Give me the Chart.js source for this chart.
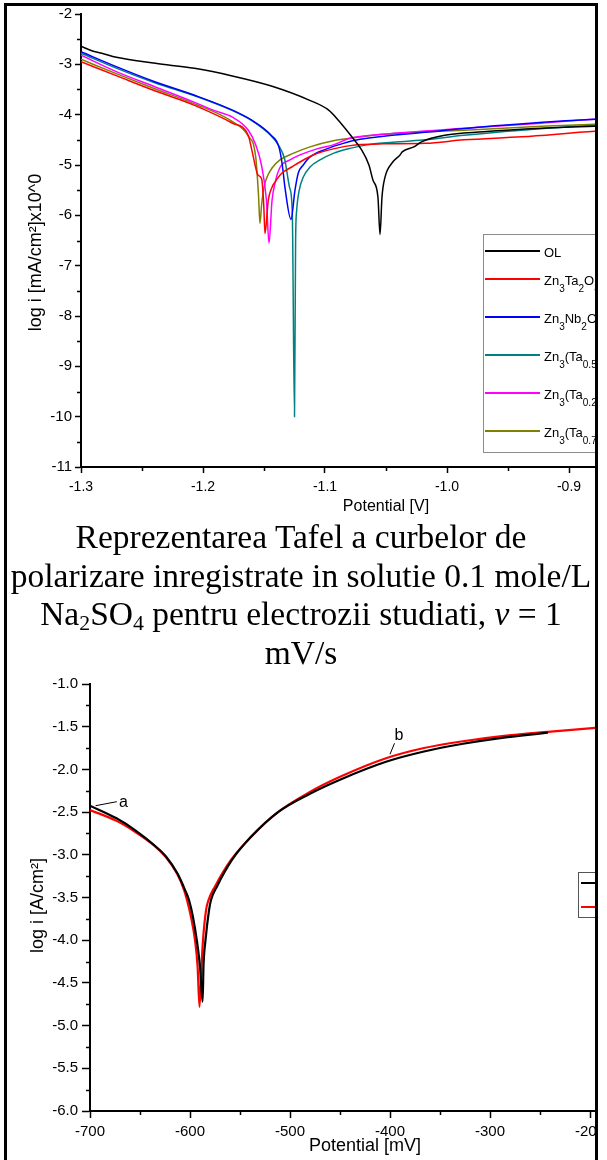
<!DOCTYPE html>
<html>
<head>
<meta charset="utf-8">
<script src="https://cdn.jsdelivr.net/npm/chart.js@4.4.1/dist/chart.umd.min.js"></script>
<style>
    html, body { margin: 0; padding: 0; background: #fff; width: 607px; height: 1160px; overflow: hidden; }
    #clip { position: absolute; left: 7px; top: 6px; width: 588px; height: 1154px; overflow: hidden; }
    #frame { position: absolute; left: 4px; top: 3px; width: 588px; height: 1300px; border: 3px solid #000; pointer-events: none; }
    .plot { position: absolute; left: -7px; }
    #tafelWrap { top: -6px; width: 720px; height: 520px; }
    #polWrap { top: 634px; width: 660px; height: 520px; }
    #caption {
        position: absolute; left: 0; top: 512px; width: 588px; white-space: nowrap;
        font-family: "Liberation Serif", "Times New Roman", serif;
        font-size: 33.5px; line-height: 38.7px; text-align: center; color: #000;
    }
    #caption sub { font-size: 0.65em; vertical-align: -0.25em; line-height: 0; }
</style>
</head>
<body>
<div id="clip">
    <div id="tafelWrap" class="plot"><canvas id="tafelChart"></canvas></div>
    <div id="caption">Reprezentarea Tafel a curbelor de<br>polarizare inregistrate in solutie 0.1 mole/L<br>Na<sub>2</sub>SO<sub>4</sub> pentru electrozii studiati, <i>v</i> = 1<br>mV/s</div>
    <div id="polWrap" class="plot"><canvas id="polChart"></canvas></div>
</div>
<div id="frame"></div>

<script>
// ---- top chart: Tafel curves, potential [V] vs log i ----
const olV = [-1.300, -1.290, -1.283, -1.271, -1.239, -1.207, -1.176, -1.144, -1.113, -1.097, -1.087, -1.078, -1.070, -1.064, -1.0607, -1.0566, -1.0549, -1.0533, -1.0508, -1.0451, -1.0385, -1.0367, -1.0272, -1.0209, -1.0019, -0.9703, -0.9229, -0.8786, -0.86];
const olLog = [-2.64, -2.74, -2.78, -2.86, -2.98, -3.08, -3.23, -3.43, -3.71, -3.91, -4.17, -4.44, -4.70, -5.00, -5.30, -5.64, -6.38, -5.64, -5.24, -4.96, -4.80, -4.74, -4.64, -4.54, -4.41, -4.34, -4.27, -4.23, -4.22];

const taV = [-1.300, -1.2706, -1.2390, -1.2074, -1.1758, -1.1631, -1.1600, -1.1575, -1.1550, -1.1519, -1.1502, -1.1492, -1.1465, -1.1434, -1.1410, -1.1352, -1.1273, -1.1205, -1.1096, -1.0932, -1.0738, -1.0525, -1.0177, -0.9861, -0.9387, -0.8786, -0.86];
const taLog = [-2.95, -3.23, -3.53, -3.81, -4.17, -4.40, -4.70, -4.98, -5.20, -5.28, -5.80, -6.36, -5.70, -5.44, -5.34, -5.16, -5.04, -4.94, -4.80, -4.68, -4.60, -4.58, -4.57, -4.50, -4.44, -4.33, -4.31];

const nbV = [-1.300, -1.2706, -1.2390, -1.2074, -1.1758, -1.1600, -1.1442, -1.1378, -1.1350, -1.1328, -1.1279, -1.1246, -1.1219, -1.1178, -1.1123, -1.0986, -1.0850, -1.0713, -1.0177, -0.9545, -0.8786, -0.86];
const nbLog = [-2.75, -3.05, -3.35, -3.61, -3.91, -4.11, -4.41, -4.64, -5.00, -5.45, -6.08, -5.50, -5.16, -5.00, -4.84, -4.68, -4.57, -4.49, -4.35, -4.21, -4.09, -4.08];

const mix1V = [-1.300, -1.2706, -1.2390, -1.2074, -1.1758, -1.1600, -1.1442, -1.1378, -1.1331, -1.1290, -1.1268, -1.1250, -1.1241, -1.1232, -1.1211, -1.1178, -1.1123, -1.1041, -1.0932, -1.0795, -1.0658, -1.0385, -1.0177, -0.9861, -0.9387, -0.8786, -0.86];
const mix1Log = [-2.78, -3.08, -3.37, -3.62, -3.92, -4.12, -4.42, -4.62, -4.88, -5.45, -5.95, -10.0, -6.50, -5.90, -5.50, -5.24, -5.04, -4.90, -4.77, -4.67, -4.60, -4.54, -4.50, -4.41, -4.31, -4.21, -4.20];

const mix2V = [-1.300, -1.2706, -1.2390, -1.2074, -1.1916, -1.1758, -1.1631, -1.1568, -1.1521, -1.1480, -1.1459, -1.1434, -1.1410, -1.1369, -1.1287, -1.1205, -1.1066, -1.0932, -1.0795, -1.0525, -0.9861, -0.9229, -0.8786, -0.86];
const mix2Log = [-2.82, -3.15, -3.45, -3.75, -3.91, -4.05, -4.30, -4.60, -5.00, -5.70, -6.55, -5.70, -5.36, -5.05, -4.90, -4.80, -4.68, -4.60, -4.47, -4.39, -4.27, -4.17, -4.09, -4.08];

const mix3V = [-1.300, -1.2706, -1.2390, -1.2074, -1.1758, -1.1631, -1.1568, -1.1545, -1.1533, -1.1520, -1.1508, -1.1492, -1.1475, -1.1434, -1.1369, -1.1262, -1.1123, -1.0932, -1.0795, -1.0525, -0.9861, -0.9229, -0.8786, -0.86];
const mix3Log = [-2.90, -3.19, -3.49, -3.78, -4.14, -4.42, -4.84, -5.60, -6.16, -5.80, -5.56, -5.36, -5.24, -5.06, -4.90, -4.77, -4.64, -4.52, -4.47, -4.39, -4.31, -4.23, -4.19, -4.18];

const tafelLabels = ['OL', 'Zn_{3}Ta_{2}O_{8}', 'Zn_{3}Nb_{2}O_{8}', 'Zn_{3}(Ta_{0.5}Nb_{0.5})_{2}O_{8}', 'Zn_{3}(Ta_{0.25}Nb_{0.75})_{2}O_{8}', 'Zn_{3}(Ta_{0.75}Nb_{0.25})_{2}O_{8}'];
const tafelColors = ['#000000', '#ff0000', '#0000ff', '#008080', '#ff00ff', '#808000'];

// ---- bottom chart: polarization curves, potential [mV] vs log i ----
const curveAmV = [-700, -674, -655, -636, -624, -612.5, -605, -601, -597, -593.2, -590, -587.4, -586.5, -584.5, -581, -579, -573, -558, -539, -512, -481, -450, -404, -366, -327, -288, -242];
const curveALog = [-2.425, -2.57, -2.71, -2.885, -3.02, -3.22, -3.41, -3.53, -3.73, -4.0, -4.31, -4.72, -4.3, -4.0, -3.65, -3.53, -3.37, -3.06, -2.79, -2.50, -2.29, -2.12, -1.91, -1.79, -1.70, -1.63, -1.57];
const curveBmV = [-700, -674, -655, -636, -624, -613, -606, -603, -599, -595, -592.4, -590.5, -588.5, -587, -584, -581.5, -575, -559, -539, -512, -481, -450.5, -404, -366, -327, -288, -242, -180];
const curveBLog = [-2.475, -2.60, -2.73, -2.89, -3.03, -3.22, -3.41, -3.53, -3.73, -4.0, -4.31, -4.78, -4.3, -4.0, -3.65, -3.53, -3.37, -3.06, -2.79, -2.50, -2.27, -2.09, -1.87, -1.75, -1.67, -1.61, -1.56, -1.50];

const FONT = '"Liberation Sans", Arial, sans-serif';
Chart.defaults.font.family = FONT;
Chart.defaults.color = '#000';

function pts(xs, ys) {
    return xs.map((x, i) => ({ x: x, y: ys[i] }));
}

// text with _{...} subscripts
function drawRich(ctx, text, x, y, size) {
    const parts = text.split(/_\{([^}]*)\}/);
    parts.forEach((p, i) => {
        if (!p) return;
        const sub = i % 2 === 1;
        ctx.font = (sub ? Math.round(size * 0.8) : size) + 'px ' + FONT;
        ctx.fillText(p, x, sub ? y + size * 0.6 : y);
        x += ctx.measureText(p).width;
    });
}

const minorTicks = {
    id: 'minorTicks',
    afterDraw(chart, args, o) {
        const ctx = chart.ctx;
        ctx.save();
        ctx.strokeStyle = '#000';
        ctx.lineWidth = 1.5;
        ctx.beginPath();
        ['x', 'y'].forEach(id => {
            const scale = chart.scales[id];
            const step = o[id];
            const major = scale.options.ticks.stepSize;
            const start = Math.ceil(scale.min / step - 1e-9);
            for (let k = start; k * step <= scale.max + 1e-9; k++) {
                const v = k * step;
                if (Math.abs(v / major - Math.round(v / major)) < 1e-6) continue;
                const p = Math.round(scale.getPixelForValue(v)) + 0.5;
                if (id === 'x') {
                    ctx.moveTo(p, scale.top);
                    ctx.lineTo(p, scale.top + o.len);
                } else {
                    ctx.moveTo(scale.right - o.len, p);
                    ctx.lineTo(scale.right, p);
                }
            }
        });
        ctx.stroke();
        ctx.restore();
    }
};

// rotated y-axis title, placed a bit below the axis centre as in the original
const yTitle = {
    id: 'yTitle',
    afterDraw(chart, args, o) {
        const ctx = chart.ctx;
        const y = chart.scales.y;
        ctx.save();
        ctx.translate(o.x, (y.top + y.bottom) / 2 + o.shift);
        ctx.rotate(-Math.PI / 2);
        ctx.font = o.size + 'px ' + FONT;
        ctx.fillStyle = '#000';
        ctx.textAlign = 'center';
        ctx.textBaseline = 'middle';
        ctx.fillText(o.text, 0, 0);
        ctx.restore();
    }
};

const boxLegend = {
    id: 'boxLegend',
    afterDraw(chart, args, o) {
        const ctx = chart.ctx;
        ctx.save();
        ctx.fillStyle = '#fff';
        ctx.fillRect(o.x, o.y, o.w, o.h);
        ctx.strokeStyle = o.boxColor;
        ctx.lineWidth = 1;
        ctx.strokeRect(o.x + 0.5, o.y + 0.5, o.w, o.h);
        chart.data.datasets.forEach((ds, i) => {
            const y = o.rows[i];
            ctx.strokeStyle = ds.borderColor;
            ctx.lineWidth = o.lineWidth;
            ctx.beginPath();
            ctx.moveTo(o.lineX[0], y);
            ctx.lineTo(o.lineX[1], y);
            ctx.stroke();
            ctx.fillStyle = '#000';
            ctx.textBaseline = 'middle';
            ctx.textAlign = 'left';
            drawRich(ctx, ds.label, o.textX, y + 2, o.fontSize);
        });
        ctx.restore();
    }
};

const curveNotes = {
    id: 'curveNotes',
    afterDraw(chart, args, o) {
        if (!o.items) return;
        const { ctx, scales: { x, y } } = chart;
        ctx.save();
        ctx.strokeStyle = '#000';
        ctx.fillStyle = '#000';
        ctx.lineWidth = 1;
        ctx.font = o.fontSize + 'px ' + FONT;
        ctx.textBaseline = 'middle';
        ctx.textAlign = 'left';
        o.items.forEach(n => {
            ctx.beginPath();
            ctx.moveTo(x.getPixelForValue(n.from[0]), y.getPixelForValue(n.from[1]));
            ctx.lineTo(x.getPixelForValue(n.to[0]), y.getPixelForValue(n.to[1]));
            ctx.stroke();
            ctx.fillText(n.text, x.getPixelForValue(n.label[0]), y.getPixelForValue(n.label[1]));
        });
        ctx.restore();
    }
};

function axis(opts) {
    return {
        type: 'linear',
        min: opts.min,
        max: opts.max,
        ticks: {
            stepSize: opts.step,
            includeBounds: false,
            autoSkip: false,
            maxRotation: 0,
            padding: opts.pad,
            font: { size: opts.fontSize },
            color: '#000',
            callback: opts.fmt
        },
        grid: { drawOnChartArea: false, drawTicks: true, tickLength: opts.tick, tickWidth: 1.5, tickColor: '#000' },
        border: { color: '#000', width: 2 },
        title: opts.title ? { display: true, text: opts.title, color: '#000', font: { size: opts.titleSize }, padding: opts.titlePad } : { display: false },
        afterFit: opts.fit
    };
}

const tafelSeries = [[olV, olLog], [taV, taLog], [nbV, nbLog], [mix1V, mix1Log], [mix2V, mix2Log], [mix3V, mix3Log]];

new Chart(document.getElementById('tafelChart'), {
    type: 'line',
    data: {
        datasets: tafelSeries.map((s, i) => ({
            label: tafelLabels[i],
            data: pts(s[0], s[1]),
            borderColor: tafelColors[i],
            borderWidth: 1.5,
            pointRadius: 0,
            cubicInterpolationMode: 'monotone',
            fill: false
        }))
    },
    options: {
        responsive: true,
        maintainAspectRatio: false,
        animation: false,
        layout: { padding: { top: 14, left: 0, right: 29, bottom: 0 } },
        plugins: {
            legend: { display: false },
            tooltip: { enabled: false },
            minorTicks: { x: 0.05, y: 0.5, len: 4 },
            yTitle: { text: 'log i [mA/cm²]x10^0', x: 36, shift: 12, size: 18 },
            boxLegend: {
                x: 483, y: 234, w: 220, h: 218, boxColor: '#8c8c8c',
                rows: [251, 279, 317, 355, 393, 431],
                lineX: [485, 540], textX: 544, lineWidth: 2, fontSize: 13
            }
        },
        scales: {
            x: axis({
                min: -1.3, max: -0.8, step: 0.1, pad: 6, fontSize: 14, tick: 6,
                fmt: v => v.toFixed(1), title: 'Potential [V]', titleSize: 16,
                titlePad: { top: 0, bottom: 4 },
                fit: s => { s.height = 53; }
            }),
            y: axis({
                min: -11, max: -2, step: 1, pad: 3, fontSize: 15, tick: 6,
                fmt: v => v.toString(),
                fit: s => { s.width = 81; }
            })
        }
    },
    plugins: [minorTicks, yTitle, boxLegend]
});

new Chart(document.getElementById('polChart'), {
    type: 'line',
    data: {
        datasets: [
            { label: 'a', data: pts(curveAmV, curveALog), borderColor: '#000000', borderWidth: 2.2, pointRadius: 0, cubicInterpolationMode: 'monotone', fill: false },
            { label: 'b', data: pts(curveBmV, curveBLog), borderColor: '#ff0000', borderWidth: 2.2, pointRadius: 0, cubicInterpolationMode: 'monotone', fill: false }
        ]
    },
    options: {
        responsive: true,
        maintainAspectRatio: false,
        animation: false,
        layout: { padding: { top: 44, left: 0, right: 20, bottom: 0 } },
        plugins: {
            legend: { display: false },
            tooltip: { enabled: false },
            minorTicks: { x: 50, y: 0.25, len: 4 },
            yTitle: { text: 'log i [A/cm²]', x: 38, shift: 8, size: 18 },
            boxLegend: {
                x: 578, y: 232, w: 100, h: 45, boxColor: '#555',
                rows: [243, 267], lineX: [581, 620], textX: 624, lineWidth: 2.2, fontSize: 13
            },
            curveNotes: {
                fontSize: 16,
                items: [
                    { text: 'a', from: [-694.4, -2.425], to: [-673.2, -2.378], label: [-671, -2.39] },
                    { text: 'b', from: [-400, -1.823], to: [-395.5, -1.694], label: [-395.5, -1.605] }
                ]
            }
        },
        scales: {
            x: axis({
                min: -700, max: -150, step: 100, pad: 5, fontSize: 15, tick: 7,
                fmt: v => v.toString(), title: 'Potential [mV]', titleSize: 18,
                titlePad: { top: 0, bottom: 3 },
                fit: s => { s.height = 49; }
            }),
            y: axis({
                min: -6, max: -1, step: 0.5, pad: 4, fontSize: 15, tick: 8,
                fmt: v => v.toFixed(1),
                fit: s => { s.width = 90; }
            })
        }
    },
    plugins: [minorTicks, yTitle, boxLegend, curveNotes]
});
</script>
</body>
</html>
